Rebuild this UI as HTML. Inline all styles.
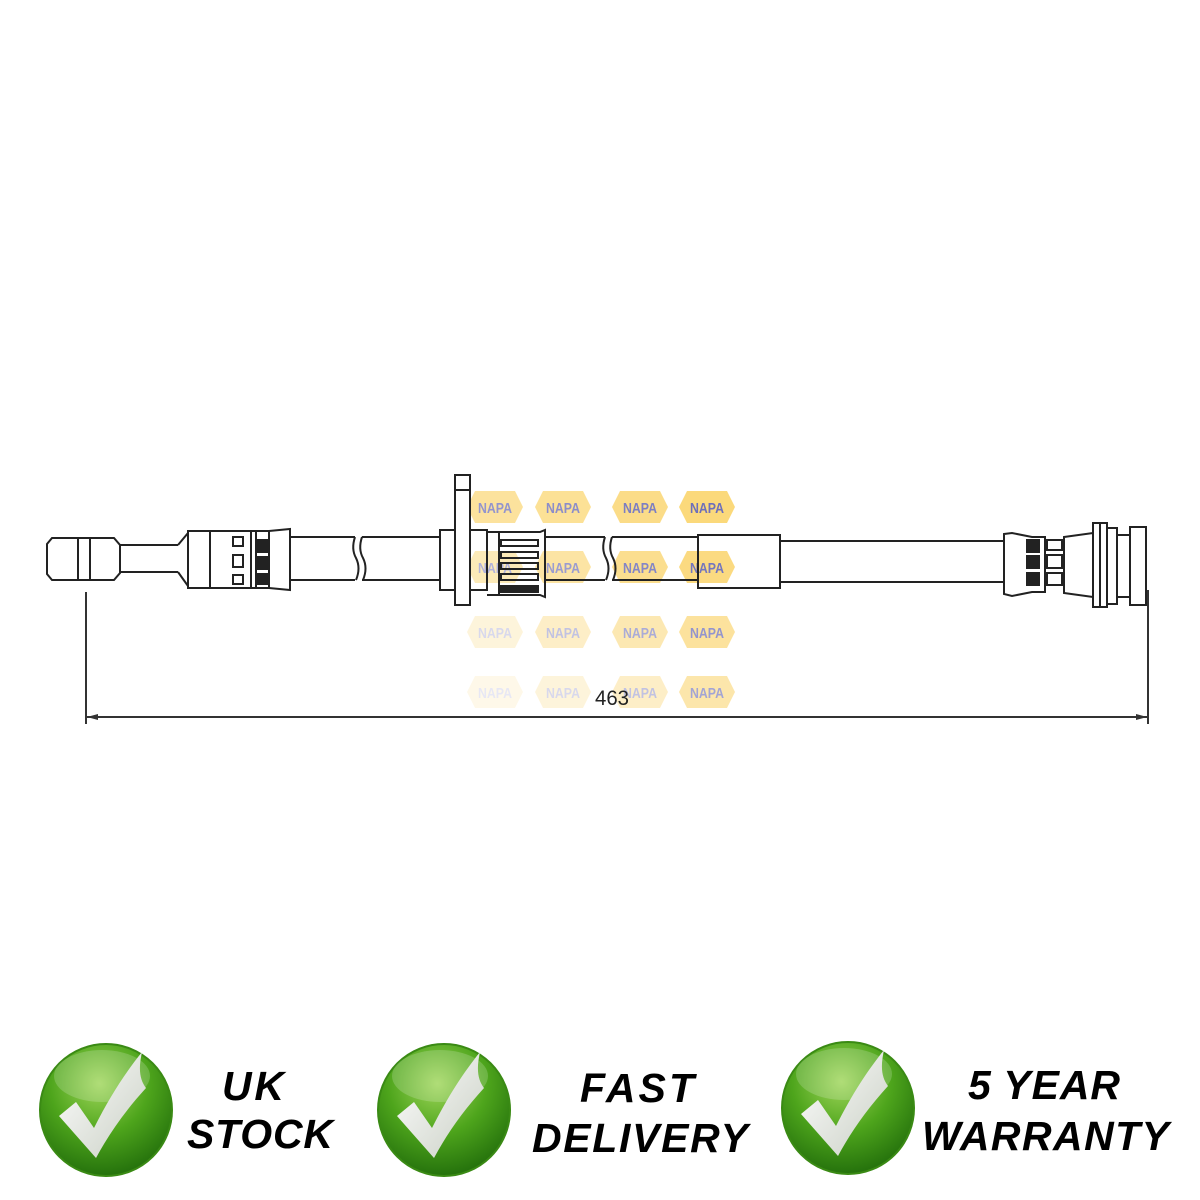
<!DOCTYPE html>
<html><head><meta charset="utf-8"><style>
html,body{margin:0;padding:0;background:#fff;}
svg{display:block;}
</style></head><body>
<svg width="1200" height="1200" viewBox="0 0 1200 1200" xmlns="http://www.w3.org/2000/svg">
<defs>
<radialGradient id="g" cx="45%" cy="30%" r="75%">
<stop offset="0" stop-color="#9fd65a"/><stop offset="0.5" stop-color="#4ea51c"/><stop offset="1" stop-color="#1f6a0a"/>
</radialGradient>
<linearGradient id="ck" x1="0" y1="0" x2="1" y2="1">
<stop offset="0" stop-color="#ffffff"/><stop offset="1" stop-color="#c9cfc4"/>
</linearGradient>
<g id="napa">
<polygon points="-28,0 -20,-16 20,-16 28,0 20,16 -20,16" fill="#fbd774"/>
<text x="0" y="6" text-anchor="middle" font-family="Liberation Sans Narrow, Liberation Sans, sans-serif" font-weight="bold" font-size="15" fill="#6668b8" textLength="34" lengthAdjust="spacingAndGlyphs">NAPA</text>
</g>
<g id="chk">
<circle r="66" fill="url(#g)" stroke="#3a8a14" stroke-width="2"/>
<ellipse cx="-4" cy="-34" rx="48" ry="26" fill="#fff" opacity="0.18"/>
<path d="M-47,6 L-30,-8 L-12,18 C4,-14 20,-38 36,-58 C32,-40 34,-30 40,-22 C20,0 4,22 -10,48 Z" fill="url(#ck)"/>
</g>
</defs>

<!-- watermarks -->
<g>
<use href="#napa" x="495" y="507" opacity="0.7"/>
<use href="#napa" x="563" y="507" opacity="0.75"/>
<use href="#napa" x="640" y="507" opacity="0.85"/>
<use href="#napa" x="707" y="507" opacity="0.95"/>
<use href="#napa" x="495" y="567" opacity="0.5"/>
<use href="#napa" x="563" y="567" opacity="0.65"/>
<use href="#napa" x="640" y="567" opacity="0.8"/>
<use href="#napa" x="707" y="567" opacity="0.9"/>
<use href="#napa" x="495" y="632" opacity="0.25"/>
<use href="#napa" x="563" y="632" opacity="0.4"/>
<use href="#napa" x="640" y="632" opacity="0.55"/>
<use href="#napa" x="707" y="632" opacity="0.7"/>
<use href="#napa" x="495" y="692" opacity="0.15"/>
<use href="#napa" x="563" y="692" opacity="0.25"/>
<use href="#napa" x="640" y="692" opacity="0.4"/>
<use href="#napa" x="707" y="692" opacity="0.6"/>
</g>

<g fill="none" stroke="#222" stroke-width="2">
<!-- left end cap -->
<path d="M52,538 H114 L120,545 V573 L114,580 H52 L47,574 V544 Z"/>
<line x1="78" y1="538" x2="78" y2="580"/><line x1="90" y1="538" x2="90" y2="580"/>
<!-- thin tube -->
<path d="M120,545 H178 M120,572 H178"/>
<path d="M178,545 L188,533 M178,572 L188,586"/>
<!-- left body -->
<path d="M188,531 H269 L290,529 V590 L269,588 H188 Z"/>
<line x1="210" y1="531" x2="210" y2="588"/>
<line x1="251" y1="531" x2="251" y2="588"/>
<line x1="256" y1="531" x2="256" y2="588"/>
<line x1="269" y1="531" x2="269" y2="588"/>
<rect x="233" y="537" width="10" height="9"/><rect x="233" y="555" width="10" height="12"/><rect x="233" y="575" width="10" height="9"/>
<rect x="258" y="540" width="9" height="12" fill="#222"/><rect x="258" y="557" width="9" height="12" fill="#222"/><rect x="258" y="574" width="9" height="10" fill="#222"/>
<!-- hose segment 1 -->
<path d="M290,537 H355 M290,580 H355"/>
<path d="M355,537 Q351,549 356,558 Q361,568 356,580"/>
<path d="M362,537 Q358,549 363,558 Q368,568 363,580"/>
<path d="M362,537 H440 M362,580 H440"/>
<!-- flange -->
<rect x="440" y="530" width="47" height="60"/>
<rect x="455" y="475" width="15" height="130" fill="#fff"/>
<line x1="455" y1="490" x2="470" y2="490"/>
<line x1="487" y1="530" x2="487" y2="590"/>
<path d="M487,532 H540 L545,530 V597 L540,595 H487"/>
<line x1="499" y1="532" x2="499" y2="595"/>
<rect x="501" y="540" width="37" height="6" fill="#fff"/>
<rect x="501" y="552" width="37" height="6"/>
<rect x="501" y="563" width="37" height="6"/>
<rect x="501" y="574" width="37" height="6"/>
<rect x="501" y="586" width="37" height="6" fill="#222"/>
<!-- hose segment 2 -->
<path d="M545,537 H605 M545,580 H605"/>
<path d="M605,537 Q601,549 606,558 Q611,568 606,580"/>
<path d="M612,537 Q608,549 613,558 Q618,568 613,580"/>
<path d="M612,537 H698 M612,580 H698"/>
<rect x="698" y="535" width="82" height="53"/>
<path d="M780,541 H1004 M780,582 H1004"/>
<!-- right fitting -->
<path d="M1004,534 L1012,533 L1032,537 H1045 V592 H1032 L1012,596 L1004,594 Z"/>
<rect x="1027" y="540" width="12" height="12" fill="#222"/><rect x="1027" y="556" width="12" height="12" fill="#222"/><rect x="1027" y="573" width="12" height="12" fill="#222"/>
<line x1="1045" y1="537" x2="1045" y2="592"/>
<rect x="1047" y="540" width="15" height="10"/><rect x="1047" y="555" width="15" height="13"/><rect x="1047" y="573" width="15" height="12"/>
<path d="M1064,537 L1093,533 V597 L1064,593 Z"/>
<rect x="1093" y="523" width="14" height="84"/>
<line x1="1100" y1="523" x2="1100" y2="607"/>
<rect x="1107" y="528" width="10" height="76"/>
<rect x="1117" y="535" width="13" height="62"/>
<rect x="1130" y="527" width="16" height="78"/>
</g>

<!-- dimension -->
<g stroke="#333" stroke-width="2" fill="none">
<line x1="86" y1="592" x2="86" y2="724"/>
<line x1="1148" y1="590" x2="1148" y2="724"/>
<line x1="86" y1="717" x2="1148" y2="717"/>
</g>
<path d="M87,717 L98,714 L98,720 Z M1147,717 L1136,714 L1136,720 Z" fill="#333"/>
<text x="612" y="705" text-anchor="middle" font-family="Liberation Sans Narrow, Liberation Sans, sans-serif" font-size="21" fill="#222" textLength="34" lengthAdjust="spacingAndGlyphs">463</text>

<!-- badges -->
<use href="#chk" x="106" y="1110"/>
<use href="#chk" x="444" y="1110"/>
<use href="#chk" x="848" y="1108"/>
<g font-family="Liberation Sans, sans-serif" font-weight="bold" font-style="italic" font-size="41" fill="#000" lengthAdjust="spacingAndGlyphs">
<text x="222" y="1100" textLength="62">UK</text>
<text x="187" y="1148" textLength="146">STOCK</text>
<text x="580" y="1102" textLength="114">FAST</text>
<text x="532" y="1152" textLength="216">DELIVERY</text>
<text x="968" y="1099" textLength="152">5 YEAR</text>
<text x="922" y="1150" textLength="247">WARRANTY</text>
</g>
</svg>
</body></html>
